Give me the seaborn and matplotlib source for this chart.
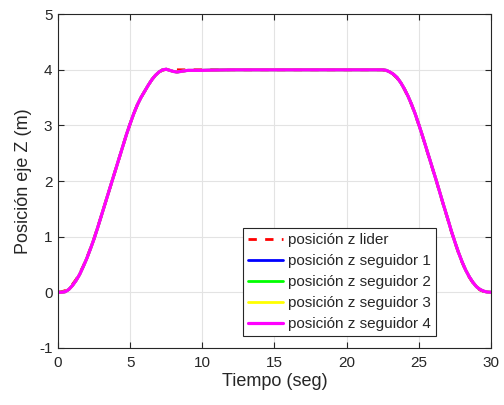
import matplotlib
matplotlib.use("Agg")
import matplotlib.pyplot as plt
import numpy as np
import pandas as pd
import seaborn as sns

# tiempo (seg) y posiciones
t = [0, 0.25, 0.5, 0.75, 1, 1.25, 1.5, 1.75, 2, 2.25, 2.5, 2.75, 3, 3.25, 3.5,
     3.75, 4, 4.25, 4.5, 4.75, 5, 5.25, 5.5, 5.75, 6, 6.25, 6.5, 6.75, 7, 7.25,
     7.5, 7.75, 8, 8.25, 8.5, 8.75, 9, 10, 12, 14, 16, 18, 20, 22, 22.5, 22.75,
     23, 23.25, 23.5, 23.75, 24, 24.25, 24.5, 24.75, 25, 25.25, 25.5, 25.75, 26,
     26.25, 26.5, 26.75, 27, 27.25, 27.5, 27.75, 28, 28.25, 28.5, 28.75, 29,
     29.25, 29.5, 29.75, 30]
z_lider = [0, 0.01, 0.03, 0.07, 0.14, 0.23, 0.34, 0.47, 0.62, 0.79, 0.97, 1.17,
           1.37, 1.58, 1.79, 2.0, 2.21, 2.42, 2.63, 2.84, 3.03, 3.21, 3.37, 3.5,
           3.61, 3.72, 3.82, 3.9, 3.96, 3.99, 4.01, 4.0, 4.0, 4.0, 4.0, 4.0, 4.0,
           4.0, 4.0, 4.0, 4.0, 4.0, 4.0, 4.0, 4.0, 3.98, 3.95, 3.91, 3.85, 3.76,
           3.65, 3.52, 3.37, 3.2, 3.01, 2.81, 2.6, 2.39, 2.18, 1.97, 1.75, 1.53,
           1.32, 1.1, 0.9, 0.71, 0.54, 0.39, 0.27, 0.17, 0.09, 0.04, 0.015, 0.004, 0.0]
z_seguidor = [0, 0.0, 0.01, 0.05, 0.12, 0.21, 0.32, 0.46, 0.61, 0.78, 0.96, 1.16,
              1.37, 1.58, 1.79, 2.0, 2.21, 2.42, 2.63, 2.84, 3.03, 3.21, 3.37, 3.5,
              3.61, 3.72, 3.82, 3.9, 3.96, 4.0, 4.01, 3.99, 3.97, 3.96, 3.97, 3.98,
              3.99, 3.99, 4.0, 4.0, 4.0, 4.0, 4.0, 4.0, 4.0, 3.99, 3.96, 3.92, 3.86,
              3.77, 3.66, 3.53, 3.38, 3.21, 3.02, 2.82, 2.61, 2.4, 2.19, 1.98, 1.76,
              1.54, 1.33, 1.11, 0.91, 0.72, 0.55, 0.4, 0.28, 0.18, 0.1, 0.05, 0.02,
              0.005, 0.0]

etiquetas = ["posición z lider", "posición z seguidor 1", "posición z seguidor 2",
             "posición z seguidor 3", "posición z seguidor 4"]
colores = ["#ff0000", "#0000ff", "#00ff00", "#ffff00", "#ff00ff"]

sns.set_theme(style="whitegrid")
plt.rcParams["font.family"] = ["Liberation Sans", "DejaVu Sans"]
plt.rcParams["axes.unicode_minus"] = False

fig = plt.figure(figsize=(5.04, 4.05), dpi=100)
ax = fig.add_axes([0.115, 0.141, 0.859, 0.824])

sns.lineplot(x=t, y=z_lider, ax=ax, color=colores[0], linewidth=2,
             linestyle=(0, (3, 3)), label=etiquetas[0])
for i in range(1, 5):
    sns.lineplot(x=t, y=z_seguidor, ax=ax, color=colores[i],
                 linewidth=2.3 if i == 4 else 2, label=etiquetas[i])

ax.set_xlim(0, 30)
ax.set_ylim(-1, 5)
ax.set_xticks([0, 5, 10, 15, 20, 25, 30])
ax.set_yticks([-1, 0, 1, 2, 3, 4, 5])
ax.grid(True, color="#e3e3e3", linewidth=0.8)
for s in ax.spines.values():
    s.set_visible(True)
    s.set_color("#262626")
    s.set_linewidth(0.8)
ax.tick_params(direction="in", length=4, width=0.8, color="#262626",
               labelsize=11, labelcolor="#262626", top=True, right=True,
               bottom=True, left=True, pad=4)
ax.tick_params(axis="x", pad=6)
ax.set_xlabel("Tiempo (seg)", fontsize=13, color="#262626", labelpad=2)
ax.set_ylabel("Posición eje Z (m)", fontsize=13, color="#262626", labelpad=5)

leg = ax.legend(loc="lower right", bbox_to_anchor=(0.873, 0.035), fontsize=11,
                frameon=True, fancybox=False, framealpha=1, edgecolor="#262626",
                handlelength=2.3, handletextpad=0.3, borderpad=0.35, labelspacing=0.45,
                borderaxespad=0)
leg.get_frame().set_linewidth(0.8)

fig.savefig("out.png", dpi=100)
